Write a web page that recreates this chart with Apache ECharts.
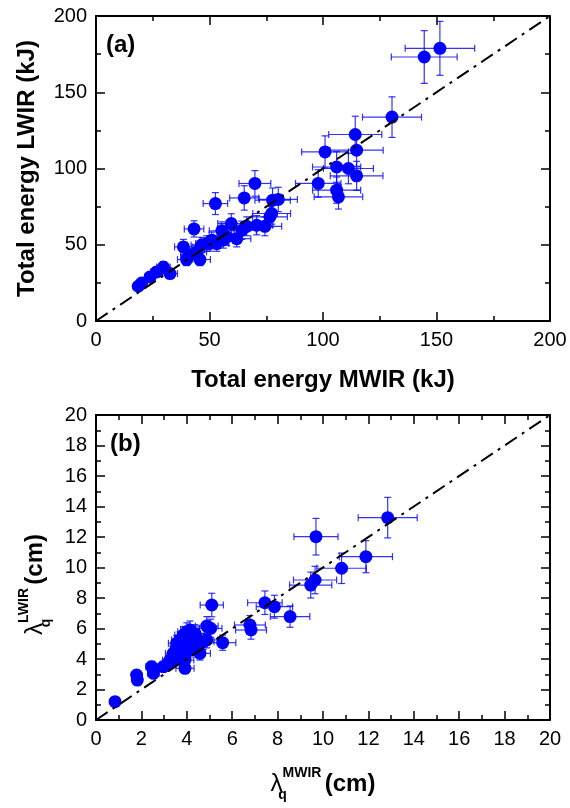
<!DOCTYPE html>
<html>
<head>
<meta charset="utf-8">
<script src="https://cdn.jsdelivr.net/npm/echarts@6/dist/echarts.min.js"></script>
<style>
html,body{margin:0;padding:0;background:#fff;}
#chart{width:570px;height:808px;}
</style>
</head>
<body>
<div id="chart"></div>
<script>
// ---- Panel (a): total energy (kJ) ----
const energyMWIR    = [151.5,144.6,130.4,114.2,100.9,114.8,106.0,111.2,114.8,97.9,106.0,106.8,70.0,65.3,52.6,80.3,77.8,77.4,76.6,43.2,59.6,55.4,66.4,70.8,74.4,62.0,38.5,39.9,45.8,48.8,53.2,57.6,51.0,29.7,26.7,32.6,23.8,20.1,18.6,41.4,44.3,64.2,46.5,56.1,50.2];
const energyLWIR    = [178.8,173.1,133.7,122.3,110.9,112.0,101.0,100.0,95.2,90.2,85.8,81.4,90.2,80.7,77.0,79.7,79.2,70.5,68.3,60.4,63.9,59.1,62.1,62.8,62.1,54.0,48.6,40.3,40.3,50.8,50.8,55.1,53.0,35.4,32.2,31.1,28.9,24.9,22.8,43.1,45.3,59.5,49.8,53.1,50.9];
const energyMWIRErr = [15.3,14.5,13.0,11.7,10.3,11.7,10.6,11.0,11.6,10.0,10.6,10.7,7.0,6.4,5.4,8.4,7.8,8.3,7.7,4.3,6.0,5.5,6.6,7.1,7.4,6.2,3.9,4.0,4.6,4.9,5.3,5.8,5.1,3.0,2.7,3.3,2.4,2.0,1.9,4.1,4.4,6.4,4.6,5.6,5.0];
const energyLWIRErr = [17.7,17.3,13.3,12.0,10.5,10.5,10.0,10.0,9.5,9.0,8.6,8.0,8.4,8.0,7.2,8.0,8.0,7.0,6.8,5.3,6.4,5.9,6.2,6.3,6.2,5.4,4.9,4.0,4.0,5.1,5.1,5.5,5.3,3.5,3.2,3.1,2.9,2.5,2.3,4.3,4.5,6.0,5.0,5.3,5.1];

// ---- Panel (b): lambda_q (cm) ----
const lambdaMWIR    = [12.85,9.69,11.89,10.82,9.65,9.46,7.44,7.86,8.55,5.10,6.78,6.83,4.88,5.05,5.58,0.84,1.79,1.82,2.45,2.53,2.97,3.33,3.92,3.40,3.55,3.70,3.85,4.00,4.14,3.63,3.77,3.92,4.07,4.21,4.29,4.43,4.58,4.73,3.48,3.26,3.92,3.11,4.14,4.36,4.88];
const lambdaLWIR    = [13.27,12.02,10.71,9.95,9.18,8.85,7.69,7.43,6.78,7.54,6.23,5.90,6.16,6.01,5.07,1.20,2.95,2.62,3.50,3.06,3.50,3.83,3.39,4.37,5.03,5.25,5.57,5.79,5.90,4.70,4.37,4.80,5.25,5.46,5.03,5.36,4.37,5.14,4.04,3.93,3.93,3.60,4.59,5.68,5.25];
const lambdaMWIRErr = [1.30,0.97,1.17,1.09,0.95,0.93,0.76,0.80,0.87,0.51,0.68,0.68,0.50,0.50,0.58,0.08,0.18,0.18,0.25,0.25,0.30,0.33,0.40,0.34,0.36,0.37,0.38,0.40,0.41,0.36,0.38,0.39,0.41,0.42,0.43,0.44,0.46,0.47,0.35,0.33,0.39,0.31,0.41,0.44,0.49];
const lambdaLWIRErr = [1.33,1.20,1.05,1.00,0.90,0.85,0.77,0.75,0.70,0.77,0.62,0.60,0.62,0.60,0.50,0.12,0.30,0.26,0.35,0.30,0.35,0.38,0.34,0.44,0.50,0.52,0.56,0.58,0.59,0.47,0.44,0.48,0.52,0.55,0.50,0.54,0.44,0.51,0.40,0.39,0.39,0.36,0.46,0.57,0.52];

// ---- axis ranges / ticks ----
const energyAxis = {min: 0, max: 200, interval: 50};
const lambdaAxis = {min: 0, max: 20, interval: 2};
const diagEnergy = [[0, 0], [200, 200]];
const diagLambda = [[0, 0], [20, 20]];

const FONT = '"Liberation Sans", Arial, Helvetica, sans-serif';
const BLUE = '#0000ff';

function zip4(a, b, c, d) { return a.map((v, i) => [v, b[i], c[i], d[i]]); }
function zip2(a, b) { return a.map((v, i) => [v, b[i]]); }

function axisBase(range, pos, gridIndex, showLabel) {
  return {
    type: 'value', gridIndex: gridIndex, position: pos,
    min: range.min, max: range.max, interval: range.interval,
    axisLine: {show: true, onZero: false, lineStyle: {color: '#000', width: 2}},
    axisTick: {show: true, inside: true, length: 9, lineStyle: {color: '#000', width: 1.5}},
    minorTick: {show: true, splitNumber: 2, length: 5, lineStyle: {color: '#000', width: 1.5}},
    splitLine: {show: false},
    minorSplitLine: {show: false},
    axisLabel: {show: showLabel, color: '#000', fontSize: 20, fontFamily: FONT, margin: 9, showMinLabel: true, showMaxLabel: true}
  };
}

function errRender(params, api) {
  const x = api.value(0), y = api.value(1), ex = api.value(2), ey = api.value(3);
  const l = api.coord([x - ex, y]), r = api.coord([x + ex, y]);
  const b = api.coord([x, y - ey]), t = api.coord([x, y + ey]);
  const c = 3.5;
  const st = {stroke: 'rgba(0,0,255,0.8)', lineWidth: 1.2};
  const mk = (x1, y1, x2, y2) => ({type: 'line', shape: {x1, y1, x2, y2}, style: st});
  return {type: 'group', children: [
    mk(l[0], l[1], r[0], r[1]),
    mk(l[0], l[1] - c, l[0], l[1] + c),
    mk(r[0], r[1] - c, r[0], r[1] + c),
    mk(b[0], b[1], t[0], t[1]),
    mk(b[0] - c, b[1], b[0] + c, b[1]),
    mk(t[0] - c, t[1], t[0] + c, t[1])
  ]};
}

const richLabel = {
  l: {fontSize: 24, fontFamily: FONT, color: '#000', lineHeight: 36, verticalAlign: 'middle'},
  sub: {fontSize: 14, fontWeight: 'bold', fontFamily: FONT, color: '#000', lineHeight: 14, verticalAlign: 'bottom', width: 0, align: 'left'},
  sup: {fontSize: 14, fontWeight: 'bold', fontFamily: FONT, color: '#000', lineHeight: 14, verticalAlign: 'top'},
  b: {fontSize: 24, fontWeight: 'bold', fontFamily: FONT, color: '#000', lineHeight: 36, verticalAlign: 'middle'}
};

const xA0 = axisBase(energyAxis, 'bottom', 0, true);
Object.assign(xA0, {name: 'Total energy MWIR (kJ)', nameLocation: 'middle', nameGap: 47,
  nameTextStyle: {fontSize: 24, fontWeight: 'bold', fontFamily: FONT, color: '#000'}});
const xA1 = axisBase(energyAxis, 'top', 0, false);
const yA0 = axisBase(energyAxis, 'left', 0, true);
Object.assign(yA0, {name: 'Total energy LWIR (kJ)', nameLocation: 'middle', nameGap: 57,
  nameTextStyle: {fontSize: 24, fontWeight: 'bold', fontFamily: FONT, color: '#000'}});
const yA1 = axisBase(energyAxis, 'right', 0, false);

const xB0 = axisBase(lambdaAxis, 'bottom', 1, true);
Object.assign(xB0, {name: '{l|λ}{sub|q}{sup|MWIR} {b|(cm)}', nameLocation: 'middle', nameGap: 46,
  nameTextStyle: {rich: richLabel}});
const xB1 = axisBase(lambdaAxis, 'top', 1, false);
const yB0 = axisBase(lambdaAxis, 'left', 1, true);
Object.assign(yB0, {name: '{l|λ}{sub|q}{sup|LWIR} {b|(cm)}', nameLocation: 'middle', nameGap: 43,
  nameTextStyle: {rich: richLabel, padding: [0, 34, 0, 0]}});
const yB1 = axisBase(lambdaAxis, 'right', 1, false);

const chart = echarts.init(document.getElementById('chart'), null, {renderer: 'canvas'});
chart.setOption({
  animation: false,
  backgroundColor: '#fff',
  grid: [
    {left: 96, top: 16, width: 454, height: 305},
    {left: 96, top: 415, width: 454, height: 305}
  ],
  xAxis: [xA0, xA1, xB0, xB1],
  yAxis: [yA0, yA1, yB0, yB1],
  graphic: [
    {type: 'text', left: 106, top: 33, style: {text: '(a)', fontSize: 24, fontWeight: 'bold', fontFamily: FONT, fill: '#000'}},
    {type: 'text', left: 110, top: 432, style: {text: '(b)', fontSize: 24, fontWeight: 'bold', fontFamily: FONT, fill: '#000'}}
  ],
  series: [
    {type: 'custom', xAxisIndex: 0, yAxisIndex: 0, renderItem: errRender, encode: {x: 0, y: 1},
     data: zip4(energyMWIR, energyLWIR, energyMWIRErr, energyLWIRErr), z: 1, silent: true},
    {type: 'scatter', xAxisIndex: 0, yAxisIndex: 0, symbol: 'circle', symbolSize: 13,
     itemStyle: {color: BLUE, opacity: 1}, data: zip2(energyMWIR, energyLWIR), z: 2},
    {type: 'line', xAxisIndex: 0, yAxisIndex: 0, data: diagEnergy, symbol: 'none', z: 3,
     lineStyle: {color: '#000', width: 2, type: [14, 6, 3, 6]}},
    {type: 'custom', xAxisIndex: 2, yAxisIndex: 2, renderItem: errRender, encode: {x: 0, y: 1},
     data: zip4(lambdaMWIR, lambdaLWIR, lambdaMWIRErr, lambdaLWIRErr), z: 1, silent: true},
    {type: 'scatter', xAxisIndex: 2, yAxisIndex: 2, symbol: 'circle', symbolSize: 13,
     itemStyle: {color: BLUE, opacity: 1}, data: zip2(lambdaMWIR, lambdaLWIR), z: 2},
    {type: 'line', xAxisIndex: 2, yAxisIndex: 2, data: diagLambda, symbol: 'none', z: 3,
     lineStyle: {color: '#000', width: 2, type: [14, 6, 3, 6]}}
  ]
});
</script>
</body>
</html>
